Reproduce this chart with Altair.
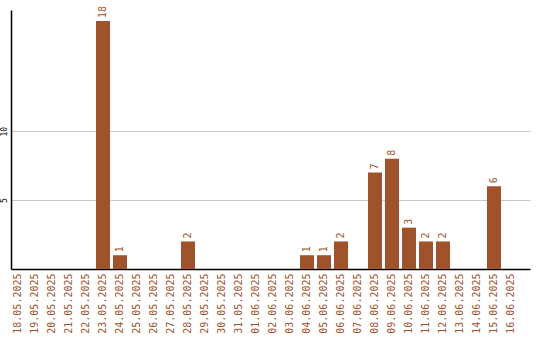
import altair as alt
import pandas as pd

dates = ["18.05.2025", "19.05.2025", "20.05.2025", "21.05.2025", "22.05.2025",
         "23.05.2025", "24.05.2025", "25.05.2025", "26.05.2025", "27.05.2025",
         "28.05.2025", "29.05.2025", "30.05.2025", "31.05.2025", "01.06.2025",
         "02.06.2025", "03.06.2025", "04.06.2025", "05.06.2025", "06.06.2025",
         "07.06.2025", "08.06.2025", "09.06.2025", "10.06.2025", "11.06.2025",
         "12.06.2025", "13.06.2025", "14.06.2025", "15.06.2025", "16.06.2025"]
counts = [0, 0, 0, 0, 0,
          18, 1, 0, 0, 0,
          2, 0, 0, 0, 0,
          0, 0, 1, 1, 2,
          0, 7, 8, 3, 2,
          2, 0, 0, 6, 0]

df = pd.DataFrame({"date": dates, "count": counts})
df["label"] = df["count"].apply(lambda v: str(v) if v > 0 else "")

color = "#a0522d"

x = alt.X("date:N", sort=dates, title=None,
          scale=alt.Scale(paddingInner=0.176, paddingOuter=0.353, align=0),
          axis=alt.Axis(labelAngle=270, labelAlign="right", labelBaseline="middle",
                        labelColor=color, labelFont="DejaVu Sans Mono", labelFontSize=10,
                        labelPadding=4, ticks=False, domainColor="black",
                        domainWidth=1.5, grid=False))
y = alt.Y("count:Q", title=None,
          scale=alt.Scale(domain=[0, 18.8], nice=False, zero=True),
          axis=alt.Axis(values=[5, 10], labelAngle=270, labelAlign="center",
                        labelBaseline="bottom", labelFontSize=8,
                        labelFont="DejaVu Sans Mono", labelColor="black",
                        labelPadding=3, ticks=False, domainColor="black",
                        domainWidth=1.5, grid=True, gridColor="#c8c8c8",
                        gridWidth=1))

bars = alt.Chart(df).mark_bar(color=color).encode(x=x, y=y)
text = alt.Chart(df).mark_text(angle=270, align="left", baseline="middle", dx=3,
                               color=color, font="DejaVu Sans Mono", fontSize=10).encode(
    x=alt.X("date:N", sort=dates), y="count:Q", text="label:N")

chart = (bars + text).properties(
    width=519, height=259,
    background="white",
    autosize=alt.AutoSizeParams(type="none"),
    padding={"left": 11, "top": 10, "right": 10, "bottom": 71},
).configure_view(stroke=None, strokeWidth=0)

chart.save("out.html", embed_options={"renderer": "svg", "actions": False})
